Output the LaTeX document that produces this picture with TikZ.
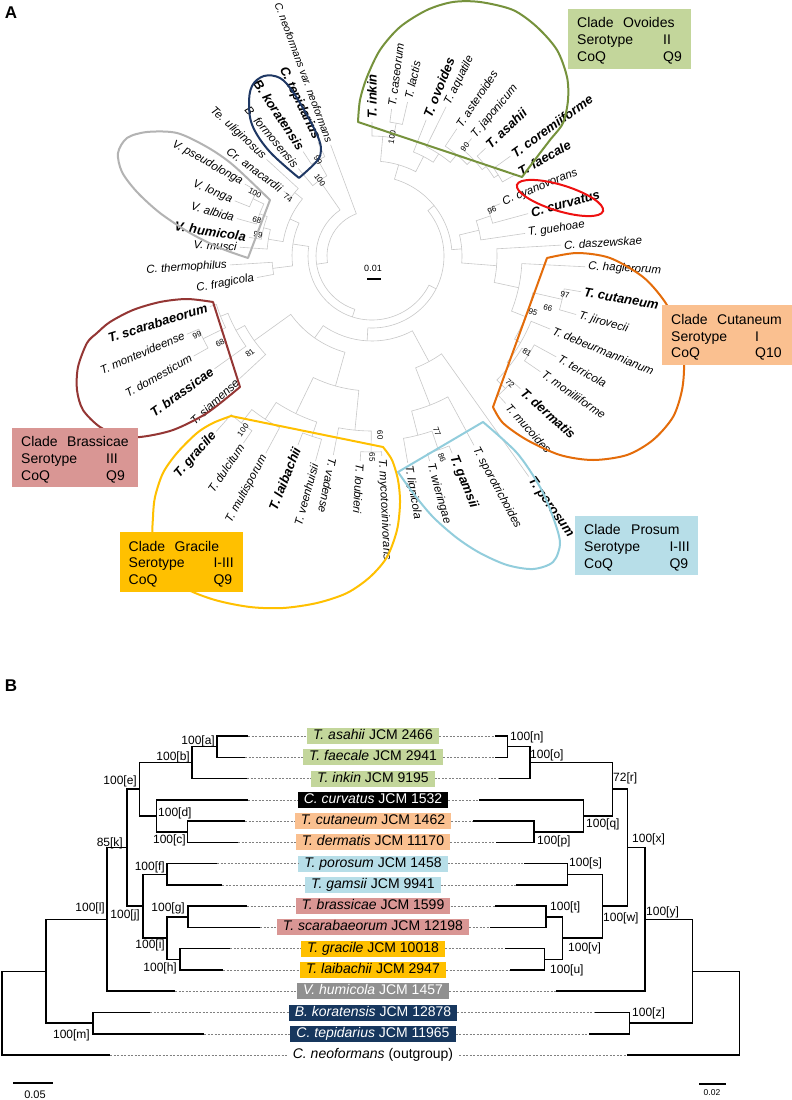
\documentclass[tikz,border=0pt]{standalone}
\usepackage{fontspec}
\setmainfont{Liberation Sans}
\definecolor{ovg}{HTML}{76923C}
\definecolor{ovf}{HTML}{C3D69B}
\definecolor{nav}{HTML}{1F3864}
\definecolor{nvf}{HTML}{17375E}
\definecolor{vgr}{HTML}{B3B3B3}
\definecolor{brn}{HTML}{943634}
\definecolor{yel}{HTML}{FFC000}
\definecolor{lbl}{HTML}{92CDDC}
\definecolor{lbf}{HTML}{B7DEE8}
\definecolor{org}{HTML}{E46C0A}
\definecolor{orf}{HTML}{FAC090}
\definecolor{pkf}{HTML}{D99694}
\definecolor{grf}{HTML}{909090}
\definecolor{trc}{HTML}{C8C8C8}
\definecolor{redc}{HTML}{EE1111}
\newcommand\trnd[5]{\draw[tr] (#2:#3) -- (#2:#1) arc[start angle=#2, end angle=#4, radius=#1] -- (#4:#5);}
\newcommand\tipR[5]{\node[#3,anchor=west,rotate=#1] (#4) at (#1:#2) {#5};}
\newcommand\tipL[5]{\node[#3,anchor=east,rotate=#1+180] (#4) at (#1:#2) {#5};}
\begin{document}
\begin{tikzpicture}[x=1pt,y=-1pt,
  tr/.style={draw=trc, line width=0.6pt},
  tn/.style={font=\fontsize{11.5}{12}\selectfont\itshape, inner sep=1pt},
  tns/.style={font=\fontsize{10.5}{12}\selectfont\itshape, inner sep=1pt},
  tb/.style={font=\fontsize{13}{14}\selectfont\bfseries\itshape, inner sep=1pt},
  bsn/.style={font=\fontsize{8}{9}\selectfont, inner sep=0pt},
  bxt/.style={font=\fontsize{14}{16}\selectfont, inner sep=0pt},
  ol/.style={line width=2pt, line join=round},
  tk/.style={line width=1.5pt},
  ld/.style={draw=gray, line width=0.6pt, dash pattern=on 2pt off 1.5pt},
  lb/.style={font=\fontsize{14}{16}\selectfont, inner xsep=6pt, inner ysep=0pt, text height=10pt, text depth=3pt, minimum height=16pt},
  nl/.style={font=\fontsize{12}{13}\selectfont, inner sep=0pt},
  pl/.style={font=\fontsize{17}{17}\selectfont\bfseries, inner sep=0pt}]
\useasboundingbox (0,0) rectangle (792,1100);
\fill[white] (0,0) rectangle (792,1100);

% ================= PANEL A =================
\node[pl] (pA) at (11,13) {A};

\begin{scope}[shift={(372,256)}, yscale=-1]
% tree
\trnd{45}{110.4}{118.6}{188.45}{56}
\trnd{56}{-107.85}{64}{-235.25}{92}
\trnd{92}{-229.9}{114.4}{-240.6}{110}
\trnd{110}{-236.6}{125}{-244.6}{126.4}
\trnd{64}{-27.1}{72}{-188.6}{80}
\trnd{80}{-172.9}{100}{-204.3}{90}
\trnd{100}{-169.4}{117}{-176.4}{142.3}
\trnd{90}{-189.2}{105}{-219.4}{100}
\trnd{100}{-216.3}{109.6}{-222.5}{143.1}
\trnd{105}{-183.8}{132.3}{-194.6}{112}
\trnd{112}{-188.6}{124.4}{-200.6}{120}
\trnd{120}{-195.5}{140.2}{-205.7}{132}
\trnd{132}{-201.9}{147.9}{-209.5}{146.2}
\trnd{72}{39.1}{80}{-93.3}{85}
\trnd{80}{73.7}{95}{4.55}{90}
\trnd{95}{84.85}{120}{62.6}{112}
\trnd{120}{90}{134}{79.7}{135}
\trnd{135}{82.4}{148.3}{77}{158}
\trnd{112}{68.3}{146.6}{56.85}{122}
\trnd{122}{63.6}{166.6}{50.1}{132}
\trnd{132}{56.3}{153}{43.9}{140}
\trnd{140}{49.7}{154}{38.1}{145}
\trnd{145}{43.5}{156.4}{32.7}{150}
\trnd{150}{35.8}{170.6}{29.6}{166}
\trnd{90}{13.55}{110}{-4.45}{125}
\trnd{110}{18.7}{125}{8.4}{154.7}
\trnd{125}{22.2}{138.4}{15.2}{161.7}
\trnd{125}{3.3}{189.3}{-12.2}{150}
\trnd{150}{-2.9}{213.3}{-21.55}{165}
\trnd{165}{-12.85}{195}{-30.25}{172}
\trnd{195}{-9.7}{212}{-16}{212.3}
\trnd{172}{-22.3}{192.6}{-38.2}{176}
\trnd{176}{-31.6}{185}{-44.8}{188}
\trnd{185}{-28.7}{210}{-34.5}{204.4}
\trnd{188}{-41.8}{199}{-47.8}{199}
\trnd{85}{-61.65}{120}{-125}{100}
\trnd{120}{-54.6}{270.5}{-68.7}{160}
\trnd{160}{-61.7}{215}{-75.65}{185}
\trnd{185}{-80.2}{210}{-71.1}{205}
\trnd{205}{-67.9}{213}{-74.3}{213}
\trnd{100}{-105.7}{135}{-144.3}{145}
\trnd{135}{-95.6}{175}{-115.8}{175}
\trnd{175}{-101}{202.7}{-90.25}{196}
\trnd{196}{-87.2}{200}{-93.3}{205.3}
\trnd{175}{-108.4}{190}{-123.2}{195}
\trnd{190}{-105.4}{212.7}{-111.4}{203}
\trnd{195}{-118.3}{224}{-128.05}{212}
\trnd{212}{-124.5}{227}{-131.6}{234.6}
\trnd{145}{-137.2}{180.6}{-151.35}{155}
\trnd{155}{-144.4}{193.6}{-158.3}{163}
\trnd{163}{-162.7}{169.7}{-153.9}{188}
\trnd{188}{-150.7}{204.4}{-157.1}{201}
% tip labels
\tipR{90}{136}{tb}{t1}{T. inkin}
\tipR{82.4}{150.3}{tn}{t2}{T. caseorum}
\tipR{77}{160}{tn}{t3}{T. lactis}
\tipR{68.3}{148.6}{tb}{t4}{T. ovoides}
\tipR{63.6}{168.6}{tn}{t5}{T. aquatile}
\tipR{56.3}{155}{tn}{t6}{T. asteroides}
\tipR{49.7}{156}{tn}{t7}{T. japonicum}
\tipR{43.5}{158.4}{tb}{t8}{T. asahii}
\tipR{35.8}{172.6}{tb}{t9}{T. coremiiforme}
\tipR{29.6}{168}{tb}{t10}{T. faecale}
\tipR{22.2}{140.4}{tn}{t11}{C. cyanovorans}
\tipR{15.2}{163.7}{tb}{t12}{C. curvatus}
\tipR{8.4}{156.7}{tn}{t13}{T. guehoae}
\tipR{3.3}{191.3}{tn}{t14}{C. daszewskae}
\tipR{-2.9}{215.3}{tn}{t15}{C. haglerorum}
\tipR{-9.7}{214}{tb}{t16}{T. cutaneum}
\tipR{-16}{214.3}{tn}{t17}{T. jirovecii}
\tipR{-22.3}{194.6}{tn}{t18}{T. debeurmannianum}
\tipR{-28.7}{212}{tn}{t19}{T. terricola}
\tipR{-34.5}{206.4}{tn}{t20}{T. moniliiforme}
\tipR{-41.8}{201}{tb}{t21}{T. dermatis}
\tipR{-47.8}{201}{tn}{t22}{T. mucoides}
\tipR{-54.6}{272.5}{tb}{t23}{T. porosum}
\tipR{-61.7}{217}{tn}{t24}{T. sporotrichoides}
\tipR{-67.9}{215}{tb}{t25}{T. gamsii}
\tipR{-74.3}{215}{tn}{t26}{T. wieringae}
\tipR{-80.2}{212}{tn}{t27}{T. lignicola}
\tipR{-87.2}{202}{tn}{t28}{T. mycotoxinivorans}
\tipR{-93.3}{207.3}{tn}{t29}{T. loubieri}
\tipR{-101}{204.7}{tn}{t30}{T. vadense}
\tipL{-105.4}{214.7}{tn}{t31}{T. veenhuisii}
\tipL{-111.4}{205}{tb}{t32}{T. laibachii}
\tipL{-118.3}{226}{tn}{t33}{T. multisporum}
\tipL{-124.5}{229}{tn}{t34}{T. dulcitum}
\tipL{-131.6}{236.6}{tb}{t35}{T. gracile}
\tipL{-137.2}{182.6}{tn}{t36}{T. siamense}
\tipL{-144.4}{195.6}{tb}{t37}{T. brassicae}
\tipL{-150.7}{206.4}{tn}{t38}{T. domesticum}
\tipL{-157.1}{203}{tn}{t39}{T. montevideense}
\tipL{-162.7}{171.7}{tb}{t40}{T. scarabaeorum}
\tipL{-169.4}{119}{tn}{t41}{C. fragicola}
\tipL{-176.4}{144.3}{tn}{t42}{C. thermophilus}
\tipL{-183.8}{134.3}{tn}{t43}{V. musci}
\tipL{-188.6}{126.4}{tb}{t44}{V. humicola}
\tipL{-195.5}{142.2}{tn}{t45}{V. albida}
\tipL{-201.9}{149.9}{tn}{t46}{V. longa}
\tipL{-209.5}{148.2}{tn}{t47}{V. pseudolonga}
\tipL{-216.3}{111.6}{tn}{t48}{Cr. anacardii}
\tipL{-222.5}{145.1}{tn}{t49}{Te. uliginosus}
\tipL{-229.9}{116.4}{tn}{t50}{B. formosensis}
\tipL{-236.6}{127}{tb}{t51}{B. koratensis}
\tipL{-244.6}{128.4}{tb}{t52}{C. tepidarius}
\tipL{110.4}{120.6}{tns}{t53}{C. neoformans var. neoformans}
% red ellipse
\draw[redc, line width=2pt, rotate around={17:(188,58)}] (188,58) ellipse[x radius=45, y radius=13];
\end{scope}

% bootstrap values
\node[bsn, rotate=80] (s1) at (392,137) {100};
\node[bsn, rotate=49.5] (s2) at (465,147) {90};
\node[bsn, rotate=21] (s3) at (492,210) {96};
\node[bsn, rotate=-11.4] (s4) at (565,295) {97};
\node[bsn, rotate=-16.5] (s5) at (548,308) {66};
\node[bsn, rotate=-19.2] (s6) at (533,312) {95};
\node[bsn, rotate=-31.8] (s7) at (527,352) {81};
\node[bsn, rotate=-42.6] (s8) at (510,383) {72};
\node[bsn, rotate=-69.7] (s9) at (437,432) {77};
\node[bsn, rotate=-70.9] (s10) at (442,458) {86};
\node[bsn, rotate=-87.4] (s11) at (380,435) {60};
\node[bsn, rotate=-90] (s12) at (372,457) {65};
\node[bsn, rotate=53.4] (s13) at (243,430) {100};
\node[bsn, rotate=38.5] (s14) at (250,353) {81};
\node[bsn, rotate=29.8] (s15) at (220,343) {68};
\node[bsn, rotate=24.3] (s16) at (197,335) {99};
\node[bsn, rotate=-34.6] (s17) at (288,198) {74};
\node[bsn, rotate=-28.3] (s18) at (255,193) {100};
\node[bsn, rotate=-17.4] (s19) at (257,220) {68};
\node[bsn, rotate=-10.4] (s20) at (258,235) {99};
\node[bsn, rotate=-60.6] (s21) at (318,160) {99};
\node[bsn, rotate=-55.6] (s22) at (320,180) {100};

% scale bar A
\node[font=\fontsize{9}{10}\selectfont, inner sep=0pt] (sa) at (373,268) {0.01};
\draw[line width=1.5pt] (367,279) -- (381,279);

% clade outlines
\draw[ol, ovg] (522,177) -- plot[smooth] coordinates {(358,122) (360,100) (367,77) (380,50) (400,27) (427,10) (453,2) (480,2) (513,10) (537,27) (557,50) (567,77) (568,100) (563,123) (550,140) (537,157) (522,177)} -- cycle;
\draw[ol, nav] plot[smooth, tension=0.6] coordinates {(299,178) (270,152) (253,127) (249,105) (252,86) (264,76) (280,78) (293,92) (308,117) (318,137) (321,150) (317,161) (299,178)};
\draw[ol, vgr] plot[smooth] coordinates {(270,200) (233,165) (207,147) (177,133) (147,132) (127,138) (118,153) (122,172) (137,192) (160,213) (190,233) (220,248) (248,258)} -- cycle;
\draw[ol, brn] plot[smooth] coordinates {(240,387) (207,413) (173,430) (140,437) (120,435) (100,427) (83,410) (77,390) (78,367) (87,343) (97,333) (110,322) (133,310) (160,302) (187,299) (213,302)} -- cycle;
\draw[ol, yel] plot[smooth] coordinates {(383,447) (392,460) (398,480) (400,503) (397,530) (387,557) (370,577) (347,593) (317,603) (283,608) (250,607) (215,600) (185,588) (163,568) (153,540) (153,517) (155,497) (163,473) (177,453) (197,433) (213,423) (231,416)} -- cycle;
\draw[ol, lbl] plot[smooth] coordinates {(483,422) (517,453) (540,487) (553,517) (560,543) (553,562) (533,569) (507,565) (480,553) (457,538) (433,517) (413,493) (398,472)} -- cycle;
\draw[ol, org] plot[smooth] coordinates {(547,258) (577,253) (610,258) (643,277) (665,302) (680,332) (684,363) (682,390) (673,417) (653,440) (627,455) (593,460) (560,455) (527,440) (503,423) (493,407)} -- cycle;

% clade boxes
\fill[ovf] (568,9) rectangle (691,69);
\node[bxt, anchor=base west] (ov1) at (577,27.7) {Clade};
\node[bxt, anchor=base west] (ov2) at (623,27.7) {Ovoides};
\node[bxt, anchor=base west] (ov3) at (577,44.3) {Serotype};
\node[bxt, anchor=base west] (ov4) at (663,44.3) {II};
\node[bxt, anchor=base west] (ov5) at (577,61) {CoQ};
\node[bxt, anchor=base west] (ov6) at (663,61) {Q9};

\fill[orf] (662,305) rectangle (792,365);
\node[bxt, anchor=base west] (cu1) at (671,324.3) {Clade};
\node[bxt, anchor=base west] (cu2) at (717,324.3) {Cutaneum};
\node[bxt, anchor=base west] (cu3) at (671,341) {Serotype};
\node[bxt, anchor=base west] (cu4) at (755,341) {I};
\node[bxt, anchor=base west] (cu5) at (671,357.7) {CoQ};
\node[bxt, anchor=base west] (cu6) at (755,357.7) {Q10};

\fill[pkf] (12,428) rectangle (138,487);
\node[bxt, anchor=base west] (br1) at (21,446) {Clade};
\node[bxt, anchor=base west] (br2) at (67,446) {Brassicae};
\node[bxt, anchor=base west] (br3) at (21,463) {Serotype};
\node[bxt, anchor=base west] (br4) at (106,463) {III};
\node[bxt, anchor=base west] (br5) at (21,480) {CoQ};
\node[bxt, anchor=base west] (br6) at (106,480) {Q9};

\fill[yel] (120,532) rectangle (243,592);
\node[bxt, anchor=base west] (gr1) at (128.5,551) {Clade};
\node[bxt, anchor=base west] (gr2) at (174.5,551) {Gracile};
\node[bxt, anchor=base west] (gr3) at (128.5,567.5) {Serotype};
\node[bxt, anchor=base west] (gr4) at (213.3,567.5) {I-III};
\node[bxt, anchor=base west] (gr5) at (128.5,584) {CoQ};
\node[bxt, anchor=base west] (gr6) at (213.3,584) {Q9};

\fill[lbf] (575,516) rectangle (698,575);
\node[bxt, anchor=base west] (pr1) at (584,534) {Clade};
\node[bxt, anchor=base west] (pr2) at (631,534) {Prosum};
\node[bxt, anchor=base west] (pr3) at (584,551) {Serotype};
\node[bxt, anchor=base west] (pr4) at (669.3,551) {I-III};
\node[bxt, anchor=base west] (pr5) at (584,568) {CoQ};
\node[bxt, anchor=base west] (pr6) at (669.3,568) {Q9};

% ================= PANEL B =================
\node[pl] (pB) at (11,686) {B};

\node[lb, fill=ovf] (b1) at (373,736) {\textit{T. asahii} JCM 2466};
\node[lb, fill=ovf] (b2) at (373,757.3) {\textit{T. faecale} JCM 2941};
\node[lb, fill=ovf] (b3) at (373,778.5) {\textit{T. inkin} JCM 9195};
\node[lb, fill=black, text=white] (b4) at (373,799.8) {\textit{C. curvatus} JCM 1532};
\node[lb, fill=orf] (b5) at (373,821.1) {\textit{T. cutaneum} JCM 1462};
\node[lb, fill=orf] (b6) at (373,842.4) {\textit{T. dermatis} JCM 11170};
\node[lb, fill=lbf] (b7) at (373,863.6) {\textit{T. porosum} JCM 1458};
\node[lb, fill=lbf] (b8) at (373,884.9) {\textit{T. gamsii} JCM 9941};
\node[lb, fill=pkf] (b9) at (373,906.2) {\textit{T. brassicae} JCM 1599};
\node[lb, fill=pkf] (b10) at (373,927.4) {\textit{T. scarabaeorum} JCM 12198};
\node[lb, fill=yel] (b11) at (373,948.7) {\textit{T. gracile} JCM 10018};
\node[lb, fill=yel] (b12) at (373,970) {\textit{T. laibachii} JCM 2947};
\node[lb, fill=grf, text=white] (b13) at (373,991.2) {\textit{V. humicola} JCM 1457};
\node[lb, fill=nvf, text=white] (b14) at (373,1012.5) {\textit{B. koratensis} JCM 12878};
\node[lb, fill=nvf, text=white] (b15) at (373,1033.8) {\textit{C. tepidarius} JCM 11965};
\node[lb] (b16) at (373,1055) {\textit{C. neoformans} (outgroup)};

% tip coordinates
\coordinate (L1) at (248,736);   \coordinate (R1) at (495,736);
\coordinate (L2) at (245,757.3); \coordinate (R2) at (495,757.3);
\coordinate (L3) at (247,778.5); \coordinate (R3) at (499,778.5);
\coordinate (L4) at (248,799.8); \coordinate (R4) at (479.3,799.8);
\coordinate (L5) at (245,821.1); \coordinate (R5) at (473.3,821.1);
\coordinate (L6) at (238,842.4); \coordinate (R6) at (496,842.4);
\coordinate (L7) at (217,863.6); \coordinate (R7) at (524,863.6);
\coordinate (L8) at (222,884.9); \coordinate (R8) at (516,884.9);
\coordinate (L9) at (247,906.2); \coordinate (R9) at (495,906.2);
\coordinate (L10) at (260,927.4); \coordinate (R10) at (490,927.4);
\coordinate (L11) at (230,948.7); \coordinate (R11) at (505,948.7);
\coordinate (L12) at (223,970);   \coordinate (R12) at (510,970);
\coordinate (L13) at (175,991.2); \coordinate (R13) at (555.7,991.2);
\coordinate (L14) at (150,1012.5); \coordinate (R14) at (595,1012.5);
\coordinate (L15) at (204,1033.8); \coordinate (R15) at (589,1033.8);
\coordinate (L16) at (110,1055);  \coordinate (R16) at (626.7,1055);

\foreach \i in {1,...,16}{
  \draw[ld] (L\i) -- (b\i.west);
  \draw[ld] (b\i.east) -- (R\i);
}

% left tree
\draw[tk] (L1) -| (217,757.3) -- (L2);
\draw[tk] (217,746.65) -| (192,778.5) -- (L3);
\draw[tk] (192,762.6) -| (139.3,815.8) -- (156.7,815.8);
\draw[tk] (L4) -| (156.7,831.75) -- (187.3,831.75);
\draw[tk] (L5) -| (187.3,842.4) -- (L6);
\draw[tk] (139.3,789.2) -| (127,906.2) -- (143,906.2);
\draw[tk] (167,874.25) -| (143,938.1) -- (167,938.1);
\draw[tk] (L7) -| (167,884.9) -- (L8);
\draw[tk] (188,916.8) -| (167,959.35) -- (180,959.35);
\draw[tk] (L9) -| (188,927.4) -- (L10);
\draw[tk] (L11) -| (180,970) -- (L12);
\draw[tk] (127,847.7) -| (107,991.2) -- (L13);
\draw[tk] (L14) -| (93,1033.8) -- (L15);
\draw[tk] (107,919.45) -| (46,1023.15) -- (93,1023.15);
\draw[tk] (46,971.3) -| (2,1055) -- (L16);

% right tree
\draw[tk] (R1) -| (507.3,757.3) -- (R2);
\draw[tk] (507.3,746.65) -| (530,778.5) -- (R3);
\draw[tk] (530,762.6) -| (612.3,815.8) -- (583.3,815.8);
\draw[tk] (R4) -| (583.3,831.75) -- (534,831.75);
\draw[tk] (R5) -| (534,842.4) -- (R6);
\draw[tk] (612.3,789.2) -| (627.3,906.2) -- (602.3,906.2);
\draw[tk] (R7) -| (567.3,884.9) -- (R8);
\draw[tk] (567.3,874.25) -| (602.3,938.1) -- (562.3,938.1);
\draw[tk] (R9) -| (546,927.4) -- (R10);
\draw[tk] (546,916.8) -| (562.3,959.35) -- (544.3,959.35);
\draw[tk] (R11) -| (544.3,970) -- (R12);
\draw[tk] (627.3,847.7) -| (645,991.2) -- (R13);
\draw[tk] (R14) -| (629.3,1033.8) -- (R15);
\draw[tk] (645,919.45) -| (692.3,1023.15) -- (629.3,1023.15);
\draw[tk] (692.3,971.3) -| (739.3,1055) -- (R16);

% node labels left
\node[nl, anchor=base east] (na) at (215,744) {100[a]};
\node[nl, anchor=base east] (nb) at (190,760) {100[b]};
\node[nl, anchor=base east] (ne) at (137,784) {100[e]};
\node[nl, anchor=base west] (nd) at (158,816) {100[d]};
\node[nl, anchor=base east] (nc) at (186,843) {100[c]};
\node[nl, anchor=base east] (nk) at (123,846) {85[k]};
\node[nl, anchor=base east] (nf) at (165,870) {100[f]};
\node[nl, anchor=base east] (nlab) at (105,911) {100[l]};
\node[nl, anchor=base east] (nj) at (140,918) {100[j]};
\node[nl, anchor=base east] (ng) at (185,911) {100[g]};
\node[nl, anchor=base east] (ni) at (165,948) {100[i]};
\node[nl, anchor=base east] (nh) at (177,971) {100[h]};
\node[nl, anchor=base east] (nm) at (90,1038) {100[m]};
% node labels right
\node[nl, anchor=base west] (nn) at (510,740) {100[n]};
\node[nl, anchor=base west] (no) at (530,758) {100[o]};
\node[nl, anchor=base west] (nr) at (613,781) {72[r]};
\node[nl, anchor=base west] (nq) at (586,827) {100[q]};
\node[nl, anchor=base west] (np) at (537,844) {100[p]};
\node[nl, anchor=base west] (nx) at (632,842) {100[x]};
\node[nl, anchor=base west] (ns) at (569,866) {100[s]};
\node[nl, anchor=base west] (nt) at (550,910) {100[t]};
\node[nl, anchor=base west] (nw) at (603,921) {100[w]};
\node[nl, anchor=base west] (ny) at (646,915) {100[y]};
\node[nl, anchor=base west] (nv) at (568,951) {100[v]};
\node[nl, anchor=base west] (nu) at (550,973) {100[u]};
\node[nl, anchor=base west] (nz) at (632,1016) {100[z]};

% scale bars B
\draw[line width=1.2pt] (13,1083) -- (53,1083);
\node[font=\fontsize{11}{12}\selectfont, inner sep=0pt] (sb1) at (35,1095) {0.05};
\draw[line width=1.2pt] (699,1084) -- (726,1084);
\node[font=\fontsize{8.5}{9}\selectfont, inner sep=0pt] (sb2) at (712,1093) {0.02};
\end{tikzpicture}
\end{document}
